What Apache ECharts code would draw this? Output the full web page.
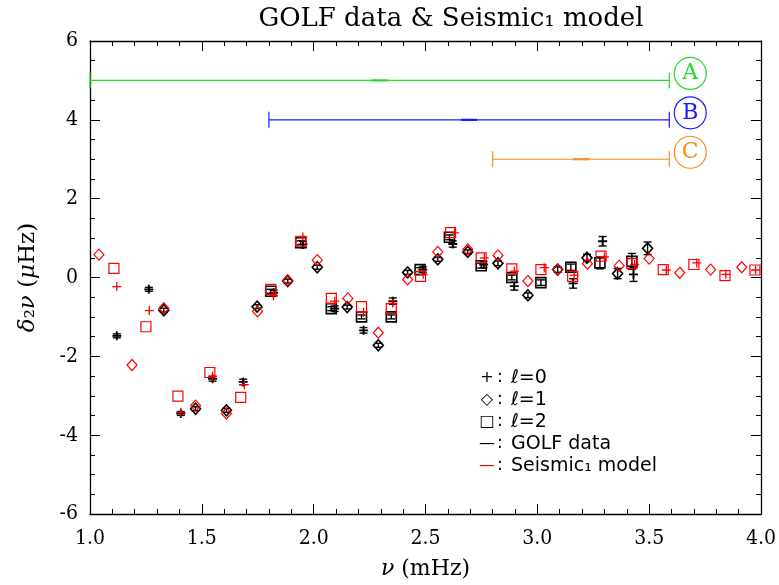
<!DOCTYPE html>
<html>
<head>
<meta charset="utf-8">
<script src="https://cdn.jsdelivr.net/npm/echarts@6/dist/echarts.min.js"></script>
<style>
  html, body { margin: 0; padding: 0; background: #fff; }
  #chart { width: 779px; height: 585px; }
</style>
</head>
<body>
<div id="chart"></div>
<script>
// Small separations δ2ν (µHz) versus frequency ν (mHz)

// GOLF observations: [ν, δ2ν] with matching 1σ errors
const golfL0 = [[1.120,-1.48],[1.263,-0.30],[1.406,-3.45],[1.548,-2.57],[1.685,-2.65],[1.821,-0.39],[1.952,0.84],[2.094,-0.79],[2.223,-1.34],[2.354,-0.60],[2.488,0.20],[2.622,0.85],[2.760,0.33],[2.897,-0.22],[3.160,-0.15],[3.292,0.92],[3.430,0.08]];
const golfL0Err = [0.05,0.05,0.05,0.06,0.07,0.07,0.08,0.07,0.07,0.08,0.07,0.08,0.08,0.10,0.12,0.12,0.18];
const golfL1 = [[1.330,-0.83],[1.472,-3.33],[1.610,-3.37],[1.747,-0.74],[1.884,-0.09],[2.016,0.26],[2.150,-0.75],[2.289,-1.72],[2.420,0.13],[2.555,0.46],[2.689,0.65],[2.824,0.36],[2.958,-0.45],[3.091,0.20],[3.222,0.50],[3.359,0.10],[3.493,0.74]];
const golfL1Err = [0.05,0.05,0.05,0.05,0.05,0.05,0.05,0.05,0.05,0.05,0.05,0.06,0.06,0.07,0.09,0.13,0.16];
const golfL2 = [[1.808,-0.35],[1.942,0.88],[2.079,-0.79],[2.214,-1.00],[2.347,-1.00],[2.476,0.20],[2.607,1.02],[2.749,0.30],[2.886,0.00],[3.016,-0.13],[3.150,0.26],[3.280,0.37],[3.423,0.41]];
const golfL2Err = [0.05,0.05,0.05,0.05,0.05,0.05,0.06,0.06,0.06,0.07,0.08,0.15,0.20];

// Seismic_1 model values
const modelL0 = [[1.120,-0.23],[1.265,-0.84],[1.406,-3.42],[1.548,-2.50],[1.690,-2.72],[1.820,-0.46],[1.952,1.03],[2.094,-0.60],[2.223,-0.88],[2.354,-0.65],[2.490,0.08],[2.630,1.13],[2.763,0.50],[2.897,0.16],[3.031,0.25],[3.165,0.06],[3.300,0.52],[3.435,0.33],[3.577,0.19],[3.713,0.37],[3.843,0.08],[3.976,0.19]];
const modelL1 = [[1.040,0.58],[1.188,-2.22],[1.330,-0.78],[1.472,-3.25],[1.610,-3.45],[1.749,-0.86],[1.884,-0.07],[2.016,0.44],[2.153,-0.53],[2.289,-1.40],[2.420,-0.05],[2.555,0.65],[2.689,0.71],[2.824,0.56],[2.958,-0.09],[3.091,0.20],[3.224,0.35],[3.366,0.30],[3.500,0.48],[3.637,0.12],[3.775,0.20],[3.914,0.26]];
const modelL2 = [[1.107,0.23],[1.250,-1.25],[1.393,-3.01],[1.536,-2.41],[1.674,-3.04],[1.808,-0.30],[1.942,0.92],[2.079,-0.53],[2.214,-0.74],[2.347,-0.79],[2.478,0.03],[2.612,1.14],[2.749,0.50],[2.886,0.22],[3.016,0.20],[3.158,0.03],[3.285,0.54],[3.423,0.35],[3.563,0.20],[3.700,0.33],[3.839,0.05],[3.973,0.19]];

// Frequency ranges A, B, C: [start, end, level]
const rangeNames = ['A', 'B', 'C'];
const rangeSpans = [[1.0, 3.59, 5.0], [1.80, 3.59, 4.0], [2.80, 3.59, 3.0]];
const rangeColors = ['#22dd22', '#1a1aff', '#ff8c1a'];

// Axis ticks
const xTicks = [1.0, 1.5, 2.0, 2.5, 3.0, 3.5, 4.0];
const yTicks = [-6, -4, -2, 0, 2, 4, 6];

const chart = echarts.init(document.getElementById('chart'));

const serif = 'DejaVu Serif, serif';
const serifCond = 'DejaVu Serif Condensed, DejaVu Serif, serif';
const sans = 'DejaVu Sans, sans-serif';
const plusPath = 'path://M5,0V10M0,5H10';

function withErr(pts, errs) {
  return pts.map((p, i) => [p[0], p[1], errs[i]]);
}

function errorBarSeries(data, color) {
  return {
    type: 'custom',
    xAxisIndex: 0, yAxisIndex: 0,
    silent: true,
    z: 2,
    data: data,
    renderItem: function (params, api) {
      const x = api.value(0), y = api.value(1), e = api.value(2);
      const top = api.coord([x, y + e]);
      const bot = api.coord([x, y - e]);
      const w = 4;
      const st = { stroke: color, lineWidth: 1.4 };
      return {
        type: 'group',
        children: [
          { type: 'line', shape: { x1: top[0], y1: top[1], x2: bot[0], y2: bot[1] }, style: st },
          { type: 'line', shape: { x1: top[0] - w, y1: top[1], x2: top[0] + w, y2: top[1] }, style: st },
          { type: 'line', shape: { x1: bot[0] - w, y1: bot[1], x2: bot[0] + w, y2: bot[1] }, style: st }
        ]
      };
    }
  };
}

function markerSeries(data, symbol, size, color, width, z) {
  return {
    type: 'scatter',
    xAxisIndex: 0, yAxisIndex: 0,
    data: data,
    symbol: symbol,
    symbolSize: size,
    z: z,
    silent: true,
    itemStyle: { color: 'rgba(0,0,0,0)', borderColor: color, borderWidth: width, opacity: 1 }
  };
}

const rangeData = rangeSpans.map((s, i) => [s[0], s[1], s[2], i]);

const rangeSeries = {
  type: 'custom',
  xAxisIndex: 0, yAxisIndex: 0,
  silent: true,
  z: 3,
  data: rangeData,
  renderItem: function (params, api) {
    const x0 = api.value(0), x1 = api.value(1), y = api.value(2), idx = api.value(3);
    const c = rangeColors[idx];
    const a = api.coord([x0, y]);
    const b = api.coord([x1, y]);
    const m = api.coord([(x0 + x1) / 2, y]);
    const st = { stroke: c, lineWidth: 1.2 };
    const cx = b[0] + 21;
    return {
      type: 'group',
      children: [
        { type: 'line', shape: { x1: a[0], y1: a[1], x2: b[0], y2: b[1] }, style: st },
        { type: 'line', shape: { x1: a[0], y1: a[1] - 8, x2: a[0], y2: a[1] + 8 }, style: st },
        { type: 'line', shape: { x1: b[0], y1: b[1] - 8, x2: b[0], y2: b[1] + 8 }, style: st },
        { type: 'line', shape: { x1: m[0] - 8, y1: m[1], x2: m[0] + 8, y2: m[1] }, style: { stroke: c, lineWidth: 2.2 } },
        { type: 'circle', shape: { cx: cx, cy: b[1] - 7, r: 16 }, style: { fill: 'none', stroke: c, lineWidth: 1.2 } },
        { type: 'text', x: cx, y: b[1] - 7, style: { text: rangeNames[idx], fill: c, font: '22px ' + serif, align: 'center', verticalAlign: 'middle' } }
      ]
    };
  }
};

const legendRows = [
  { sym: '+', label: 'ℓ=0', color: '#000' },
  { sym: '◇', label: 'ℓ=1', color: '#000' },
  { sym: '□', label: 'ℓ=2', color: '#000' },
  { sym: '—', label: 'GOLF data', color: '#000' },
  { sym: '—', label: 'Seismic₁ model', color: '#ff0000' }
];
const legendTop = 378, legendStep = 22;
const legendGraphics = [];
legendRows.forEach((r, i) => {
  const y = legendTop + i * legendStep;
  legendGraphics.push({ type: 'text', x: 487, y: y, style: { text: r.sym, fill: r.color, font: '16px ' + sans, align: 'center', verticalAlign: 'middle' } });
  legendGraphics.push({ type: 'text', x: 497, y: y, style: { text: ':', fill: '#000', font: '17px ' + sans, align: 'left', verticalAlign: 'middle' } });
  legendGraphics.push({ type: 'text', x: 511, y: y, style: { text: r.label, fill: '#000', font: '19px ' + sans, align: 'left', verticalAlign: 'middle' } });
});

const axisCommon = {
  min: 1.0, max: 4.0, interval: 0.5,
  axisLine: { show: true, onZero: false, lineStyle: { color: '#000', width: 1.3 } },
  axisTick: { show: true, inside: true, length: 10, lineStyle: { color: '#000', width: 1 } },
  minorTick: { show: true, splitNumber: 5, length: 5, lineStyle: { color: '#000', width: 1 } },
  splitLine: { show: false }
};
const yCommon = {
  min: -6, max: 6, interval: 2,
  axisLine: { show: true, onZero: false, lineStyle: { color: '#000', width: 1.3 } },
  axisTick: { show: true, inside: true, length: 10, lineStyle: { color: '#000', width: 1 } },
  minorTick: { show: true, splitNumber: 4, length: 5, lineStyle: { color: '#000', width: 1 } },
  splitLine: { show: false }
};

const option = {
  backgroundColor: '#fff',
  animation: false,
  title: {
    text: 'GOLF data & Seismic₁ model',
    left: 446, top: 1, textAlign: 'center',
    textStyle: { fontFamily: serif, fontSize: 26, fontWeight: 'normal', color: '#000' }
  },
  grid: { left: 90, right: 17, top: 41, bottom: 70 },
  xAxis: [
    Object.assign({}, axisCommon, {
      type: 'value', position: 'bottom',
      axisLabel: { show: true, margin: 14, color: '#000', fontFamily: serifCond, fontSize: 21,
        customValues: xTicks, formatter: v => v.toFixed(1) },
      name: '{i|ν} (mHz)', nameLocation: 'middle', nameGap: 44,
      nameTextStyle: { color: '#000', fontFamily: serif, fontSize: 22, rich: { i: { fontStyle: 'italic', fontFamily: serif, fontSize: 22 } } }
    }),
    Object.assign({}, axisCommon, { type: 'value', position: 'top', axisLabel: { show: false } })
  ],
  yAxis: [
    Object.assign({}, yCommon, {
      type: 'value', position: 'left',
      axisLabel: { show: true, margin: 12, color: '#000', fontFamily: serifCond, fontSize: 21,
        customValues: yTicks, formatter: v => String(v) },
      name: '{i|δ}₂{i|ν} ({i|μ}Hz)', nameLocation: 'middle', nameGap: 50, nameRotate: 90,
      nameTextStyle: { color: '#000', fontFamily: serif, fontSize: 23, rich: { i: { fontStyle: 'italic', fontFamily: serif, fontSize: 23 } } }
    }),
    Object.assign({}, yCommon, { type: 'value', position: 'right', axisLabel: { show: false } })
  ],
  graphic: legendGraphics,
  series: [
    rangeSeries,
    errorBarSeries(withErr(golfL0, golfL0Err), '#000'),
    errorBarSeries(withErr(golfL1, golfL1Err), '#000'),
    errorBarSeries(withErr(golfL2, golfL2Err), '#000'),
    markerSeries(golfL0, plusPath, 9, '#000', 1.8, 4),
    markerSeries(golfL1, 'diamond', [10, 11], '#000', 1.6, 4),
    markerSeries(golfL2, 'rect', 10, '#000', 1.6, 4),
    markerSeries(modelL0, plusPath, 9, '#ff0000', 1.3, 5),
    markerSeries(modelL1, 'diamond', [10, 11], '#ff0000', 1.2, 5),
    markerSeries(modelL2, 'rect', 10, '#ff0000', 1.2, 5)
  ]
};

chart.setOption(option);
</script>
</body>
</html>
